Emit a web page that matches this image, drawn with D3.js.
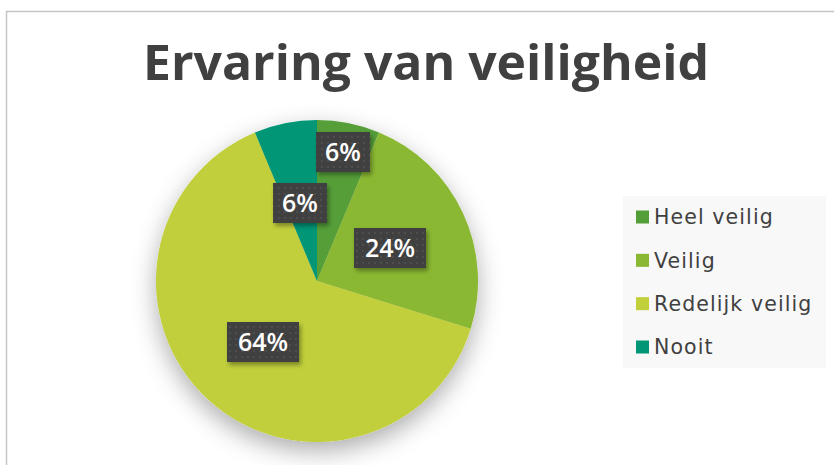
<!DOCTYPE html>
<html>
<head>
<meta charset="utf-8">
<script src="https://cdn.jsdelivr.net/npm/d3@7"></script>
<style>
  html, body { margin: 0; padding: 0; background: #fff; }
  svg { display: block; }
</style>
</head>
<body>
<svg width="834" height="465"></svg>
<script>
// data
const categories = ["Heel veilig", "Veilig", "Redelijk veilig", "Nooit"]
const values = [6.3, 23.5, 63.9, 6.3]
const colors = ["#549E39", "#8AB833", "#C0CF3A", "#029676"]

const width = 834
const height = 465
const cx = 317, cy = 281, radius = 161

let svg = d3.select("svg")
let defs = svg.append("defs")

// soft shadow under the pie
let f = defs.append("filter").attr("id", "pieShadow")
    .attr("x", "-30%").attr("y", "-30%").attr("width", "160%").attr("height", "160%")
f.append("feDropShadow").attr("dx", 0).attr("dy", 9).attr("stdDeviation", 12)
    .attr("flood-color", "#000").attr("flood-opacity", 0.32)

let f2 = defs.append("filter").attr("id", "boxShadow")
    .attr("x", "-30%").attr("y", "-30%").attr("width", "160%").attr("height", "160%")
f2.append("feDropShadow").attr("dx", 2).attr("dy", 3).attr("stdDeviation", 2)
    .attr("flood-color", "#000").attr("flood-opacity", 0.35)

// dotted texture of the label boxes
let pat = defs.append("pattern").attr("id", "dots")
    .attr("width", 6).attr("height", 6).attr("patternUnits", "userSpaceOnUse")
pat.append("rect").attr("width", 6).attr("height", 6).attr("fill", "#404040")
pat.append("circle").attr("cx", 3).attr("cy", 3).attr("r", 0.9).attr("fill", "#555")

// chart area border
svg.append("path")
    .attr("d", `M6.5,${height} L6.5,11.5 L${width},11.5`)
    .attr("fill", "none").attr("stroke", "#c6c6c6").attr("stroke-width", 1.5)

// title
svg.append("text")
    .attr("x", 426).attr("y", 80)
    .attr("text-anchor", "middle")
    .attr("font-family", "'Open Sans', sans-serif")
    .attr("font-weight", "bold")
    .attr("font-size", 48)
    .attr("fill", "#404040")
    .attr("textLength", 566).attr("lengthAdjust", "spacingAndGlyphs")
    .text("Ervaring van veiligheid")

// pie
let pie = d3.pie().sort(null).value(d => d)
let arcs = pie(values)
let arcGen = d3.arc().innerRadius(0).outerRadius(radius)

let g = svg.append("g").attr("transform", `translate(${cx},${cy})`)
g.append("g").attr("filter", "url(#pieShadow)")
    .selectAll("path").data(arcs).join("path")
    .attr("d", arcGen)
    .attr("fill", (d, i) => colors[i])
    .attr("stroke", "none")

// data label centres, as placed in the original (best fit)
let labelPos = [[343, 152], [390, 248], [263, 342], [300, 203]]

arcs.forEach((d, i) => {
    let txt = Math.round(d.data) + "%"
    let w = txt.length === 2 ? 54 : 72
    let h = 40
    let lg = svg.append("g").attr("transform", `translate(${labelPos[i][0]},${labelPos[i][1]})`)
    lg.append("rect")
        .attr("x", -w / 2).attr("y", -h / 2).attr("width", w).attr("height", h)
        .attr("fill", "url(#dots)")
        .attr("filter", "url(#boxShadow)")
    lg.append("text")
        .attr("text-anchor", "middle").attr("dy", "0.36em")
        .attr("font-family", "'Open Sans', sans-serif")
        .attr("font-weight", 600).attr("font-size", 25)
        .attr("fill", "#fff")
        .text(txt)
})

// legend
let legend = svg.append("g")
legend.append("rect")
    .attr("x", 623).attr("y", 196).attr("width", 203).attr("height", 172)
    .attr("fill", "#f8f8f8")

let ly = d3.scalePoint().domain(categories).range([217, 347])
categories.forEach((c, i) => {
    legend.append("rect")
        .attr("x", 636).attr("y", ly(c) - 6.5).attr("width", 13).attr("height", 13)
        .attr("fill", colors[i])
    legend.append("text")
        .attr("x", 654).attr("y", ly(c)).attr("dy", "0.36em")
        .attr("font-family", "'DejaVu Sans', sans-serif")
        .attr("font-size", 20.5)
        .attr("letter-spacing", 1.1)
        .attr("fill", "#404040")
        .text(c)
})
</script>
</body>
</html>
